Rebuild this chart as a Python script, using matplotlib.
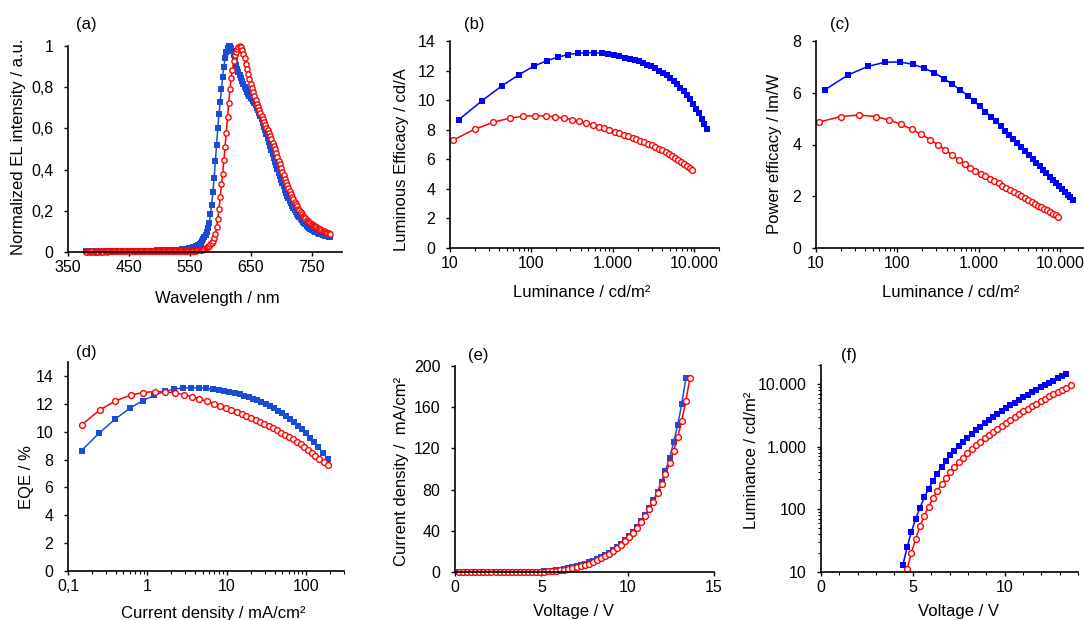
import matplotlib
matplotlib.use("Agg")
import matplotlib.pyplot as plt
from matplotlib.ticker import NullFormatter, LogLocator, MultipleLocator

plt.rcParams['font.family'] = ['Liberation Sans', 'DejaVu Sans']

# ---------------- data ----------------
# (a) EL spectra, 2 nm steps 380..780 nm
wavelength = [
    380, 382, 384, 386, 388, 390, 392, 394, 396, 398,
    400, 402, 404, 406, 408, 410, 412, 414, 416, 418,
    420, 422, 424, 426, 428, 430, 432, 434, 436, 438,
    440, 442, 444, 446, 448, 450, 452, 454, 456, 458,
    460, 462, 464, 466, 468, 470, 472, 474, 476, 478,
    480, 482, 484, 486, 488, 490, 492, 494, 496, 498,
    500, 502, 504, 506, 508, 510, 512, 514, 516, 518,
    520, 522, 524, 526, 528, 530, 532, 534, 536, 538,
    540, 542, 544, 546, 548, 550, 552, 554, 556, 558,
    560, 562, 564, 566, 568, 570, 572, 574, 576, 578,
    580, 582, 584, 586, 588, 590, 592, 594, 596, 598,
    600, 602, 604, 606, 608, 610, 612, 614, 616, 618,
    620, 622, 624, 626, 628, 630, 632, 634, 636, 638,
    640, 642, 644, 646, 648, 650, 652, 654, 656, 658,
    660, 662, 664, 666, 668, 670, 672, 674, 676, 678,
    680, 682, 684, 686, 688, 690, 692, 694, 696, 698,
    700, 702, 704, 706, 708, 710, 712, 714, 716, 718,
    720, 722, 724, 726, 728, 730, 732, 734, 736, 738,
    740, 742, 744, 746, 748, 750, 752, 754, 756, 758,
    760, 762, 764, 766, 768, 770, 772, 774, 776, 778,
    780]

el_blue = [
    0.003, 0.003, 0.002, 0.003, 0.002, 0.003, 0.003, 0.002, 0.003, 0.003,
    0.003, 0.002, 0.003, 0.003, 0.003, 0.002, 0.003, 0.003, 0.003, 0.003,
    0.003, 0.003, 0.004, 0.003, 0.004, 0.004, 0.004, 0.004, 0.004, 0.004,
    0.004, 0.004, 0.005, 0.005, 0.005, 0.005, 0.005, 0.005, 0.005, 0.005,
    0.005, 0.006, 0.006, 0.006, 0.006, 0.006, 0.006, 0.006, 0.006, 0.006,
    0.007, 0.007, 0.007, 0.007, 0.007, 0.007, 0.007, 0.007, 0.008, 0.008,
    0.008, 0.008, 0.008, 0.008, 0.008, 0.009, 0.009, 0.009, 0.009, 0.009,
    0.010, 0.010, 0.010, 0.010, 0.011, 0.011, 0.011, 0.012, 0.012, 0.013,
    0.013, 0.014, 0.015, 0.016, 0.017, 0.018, 0.019, 0.021, 0.023, 0.025,
    0.028, 0.031, 0.035, 0.040, 0.046, 0.053, 0.061, 0.071, 0.083, 0.097,
    0.115, 0.14, 0.185, 0.23, 0.29, 0.36, 0.44, 0.52, 0.60, 0.67,
    0.73, 0.79, 0.85, 0.90, 0.94, 0.97, 0.99, 1.0, 1.0, 0.99,
    0.975, 0.955, 0.935, 0.91, 0.89, 0.875, 0.86, 0.845, 0.83, 0.815,
    0.80, 0.79, 0.778, 0.768, 0.758, 0.75, 0.742, 0.733, 0.723, 0.712,
    0.70, 0.688, 0.674, 0.66, 0.644, 0.627, 0.609, 0.59, 0.571, 0.552,
    0.533, 0.514, 0.495, 0.476, 0.457, 0.438, 0.42, 0.402, 0.384, 0.367,
    0.35, 0.334, 0.318, 0.303, 0.288, 0.274, 0.261, 0.248, 0.236, 0.225,
    0.214, 0.204, 0.194, 0.185, 0.176, 0.168, 0.16, 0.153, 0.146, 0.14,
    0.134, 0.128, 0.123, 0.118, 0.113, 0.109, 0.105, 0.101, 0.098, 0.095,
    0.092, 0.089, 0.087, 0.085, 0.083, 0.081, 0.079, 0.078, 0.076, 0.075,
    0.074]

el_red = [
    0.002, 0.002, 0.003, 0.002, 0.002, 0.003, 0.002, 0.002, 0.003, 0.002,
    0.002, 0.003, 0.002, 0.003, 0.002, 0.003, 0.003, 0.002, 0.003, 0.003,
    0.003, 0.003, 0.003, 0.003, 0.003, 0.003, 0.003, 0.003, 0.003, 0.003,
    0.003, 0.003, 0.003, 0.004, 0.003, 0.004, 0.004, 0.004, 0.004, 0.004,
    0.004, 0.004, 0.004, 0.004, 0.004, 0.004, 0.004, 0.004, 0.004, 0.004,
    0.004, 0.004, 0.005, 0.004, 0.005, 0.005, 0.005, 0.005, 0.005, 0.005,
    0.005, 0.005, 0.005, 0.005, 0.005, 0.005, 0.005, 0.005, 0.005, 0.005,
    0.005, 0.005, 0.005, 0.005, 0.005, 0.005, 0.006, 0.006, 0.006, 0.006,
    0.006, 0.006, 0.006, 0.006, 0.006, 0.006, 0.006, 0.006, 0.007, 0.007,
    0.007, 0.008, 0.009, 0.010, 0.011, 0.012, 0.014, 0.016, 0.019, 0.022,
    0.026, 0.031, 0.037, 0.045, 0.055, 0.068, 0.085, 0.12, 0.16, 0.21,
    0.265, 0.33, 0.38, 0.445, 0.51, 0.58, 0.655, 0.725, 0.79, 0.845,
    0.885, 0.925, 0.955, 0.972, 0.985, 0.995, 1.0, 0.995, 0.98, 0.96,
    0.94, 0.915, 0.89, 0.865, 0.84, 0.815, 0.795, 0.775, 0.755, 0.737,
    0.72, 0.703, 0.688, 0.673, 0.658, 0.644, 0.63, 0.617, 0.604, 0.591,
    0.577, 0.562, 0.547, 0.531, 0.515, 0.498, 0.48, 0.462, 0.444, 0.426,
    0.408, 0.39, 0.373, 0.356, 0.34, 0.325, 0.31, 0.295, 0.281, 0.268,
    0.255, 0.243, 0.232, 0.221, 0.211, 0.202, 0.193, 0.185, 0.177, 0.17,
    0.163, 0.157, 0.151, 0.146, 0.141, 0.136, 0.132, 0.128, 0.124, 0.12,
    0.117, 0.113, 0.11, 0.107, 0.104, 0.101, 0.098, 0.095, 0.092, 0.09,
    0.087]

# voltage sweep (V), shared by both devices; blue stops one step earlier
volt = [0.23, 0.47, 0.70, 0.94, 1.17, 1.41, 1.64, 1.88, 2.11, 2.35,
        2.58, 2.81, 3.05, 3.28, 3.52, 3.75, 3.99, 4.22, 4.46, 4.69,
        4.92, 5.16, 5.39, 5.63, 5.86, 6.10, 6.33, 6.57, 6.80, 7.04,
        7.27, 7.50, 7.74, 7.97, 8.21, 8.44, 8.68, 8.91, 9.15, 9.38,
        9.61, 9.85, 10.08, 10.32, 10.55, 10.79, 11.02, 11.26, 11.49, 11.73,
        11.96, 12.19, 12.43, 12.66, 12.90, 13.13, 13.37, 13.60]

# current density (mA/cm2)
j_blue = [0.001, 0.001, 0.001, 0.001, 0.001, 0.001, 0.001, 0.002, 0.002, 0.003,
          0.004, 0.005, 0.008, 0.012, 0.02, 0.033, 0.055, 0.09,
          0.148, 0.247, 0.395, 0.605, 0.87, 1.21, 1.65, 2.16, 2.78, 3.53,
          4.44, 5.45, 6.63, 7.95, 9.28, 10.8, 12.6, 14.5, 16.6, 18.9,
          21.4, 24.1, 27.3, 30.8, 34.7, 39.0, 43.8, 49.2, 55.3, 62.0,
          69.6, 78.1, 87.7, 98.4, 110.5, 126, 143, 163, 188]
j_red = [0.001, 0.001, 0.001, 0.001, 0.001, 0.001, 0.001, 0.001, 0.002, 0.002,
         0.003, 0.004, 0.005, 0.008, 0.012, 0.02, 0.035, 0.058, 0.095,
         0.15, 0.25, 0.396, 0.613, 0.883, 1.23, 1.67, 2.2, 2.88, 3.64,
         4.53, 5.6, 6.84, 8.13, 9.67, 11.35, 13.34, 15.47, 17.7, 20.3,
         23.3, 26.3, 29.8, 33.8, 38.1, 42.9, 48.3, 54.3, 60.9, 68.3,
         76.4, 85.4, 95.1, 105.8, 117.7, 131, 147, 166, 188]

# luminance (cd/m2), from the first point above 10 cd/m2 on
lum_blue = [12.8, 24.8, 43.6, 70.5, 106, 155, 213, 282, 370, 473,
            590, 726, 863, 1026, 1202, 1393, 1614, 1849, 2089, 2360,
            2649, 2965, 3311, 3690, 4102, 4550, 5035, 5559, 6124, 6730,
            7379, 8072, 8810, 9594, 10420, 11300, 12240, 13240, 14290]
lum_red = [11.0, 20.1, 33.7, 53.8, 78.7, 110, 149, 195, 253, 316,
           388, 473, 569, 667, 782, 906, 1050, 1202, 1358, 1538,
           1738, 1941, 2168, 2421, 2692, 2985, 3304, 3648, 4018, 4416,
           4842, 5297, 5781, 6295, 6839, 7413, 8035, 8710, 9441]

# luminous efficacy (cd/A)
ce_blue = [8.67, 9.97, 10.98, 11.73, 12.29, 12.67, 12.92, 13.08, 13.17, 13.21,
           13.21, 13.17, 13.1, 13.03, 12.96, 12.88, 12.8, 12.72, 12.62, 12.52,
           12.41, 12.28, 12.15, 12.0, 11.84, 11.67, 11.49, 11.29, 11.08, 10.85,
           10.6, 10.33, 10.05, 9.75, 9.43, 9.1, 8.75, 8.4, 8.03]
ce_red = [7.31, 8.03, 8.5, 8.78, 8.91, 8.95, 8.93, 8.87, 8.78, 8.68,
          8.56, 8.44, 8.32, 8.2, 8.09, 7.98, 7.87, 7.77, 7.67, 7.57,
          7.47, 7.37, 7.27, 7.17, 7.06, 6.95, 6.84, 6.72, 6.6, 6.47,
          6.34, 6.2, 6.08, 5.95, 5.81, 5.67, 5.53, 5.39, 5.25]

# power efficacy (lm/W)
pe_blue = [6.11, 6.69, 7.02, 7.18, 7.19, 7.1, 6.95, 6.77, 6.55, 6.32,
           6.11, 5.89, 5.68, 5.47, 5.27, 5.08, 4.89, 4.71, 4.54, 4.37,
           4.21, 4.05, 3.89, 3.74, 3.59, 3.44, 3.3, 3.16, 3.02, 2.89,
           2.76, 2.63, 2.5, 2.38, 2.27, 2.16, 2.06, 1.96, 1.86]
pe_red = [4.87, 5.08, 5.14, 5.08, 4.95, 4.78, 4.59, 4.39, 4.19, 3.98,
          3.78, 3.59, 3.4, 3.24, 3.1, 2.98, 2.87, 2.77, 2.68, 2.59,
          2.5, 2.41, 2.33, 2.24, 2.16, 2.08, 2.0, 1.92, 1.85, 1.78,
          1.71, 1.64, 1.58, 1.51, 1.45, 1.39, 1.33, 1.27, 1.21]

# external quantum efficiency (%)
eqe_blue = [8.64, 9.9, 10.92, 11.69, 12.22, 12.6, 12.9, 13.05, 13.13, 13.16,
            13.15, 13.11, 13.04, 12.96, 12.9, 12.83, 12.76, 12.68, 12.59, 12.49,
            12.38, 12.26, 12.13, 11.99, 11.84, 11.68, 11.51, 11.33, 11.13, 10.92,
            10.69, 10.44, 10.17, 9.88, 9.57, 9.24, 8.88, 8.48, 8.04]
eqe_red = [10.5, 11.55, 12.21, 12.62, 12.81, 12.88, 12.86, 12.78, 12.66, 12.52,
           12.35, 12.18, 12.01, 11.85, 11.7, 11.55, 11.4, 11.26, 11.12, 10.98,
           10.84, 10.7, 10.56, 10.42, 10.26, 10.1, 9.94, 9.77, 9.62, 9.45,
           9.27, 9.08, 8.88, 8.69, 8.49, 8.28, 8.06, 7.83, 7.6]

# index of the first point with luminance above 10 cd/m2
first_blue = len(j_blue) - len(lum_blue)
first_red = len(j_red) - len(lum_red)

BLUE = '#0000ff'
BLUE_A = '#1a4dd6'
RED = '#ff0000'

W, H = 1084, 620
fig = plt.figure(figsize=(W / 100, H / 100), dpi=100)


def axes_px(left, top, right, bottom):
    return fig.add_axes([left / W, 1 - bottom / H, (right - left) / W, (bottom - top) / H])


def style(ax):
    for s in ('top', 'right'):
        ax.spines[s].set_visible(False)
    for s in ('left', 'bottom'):
        ax.spines[s].set_linewidth(1.2)
    ax.tick_params(which='major', direction='out', length=3, width=1, labelsize=11.5)
    ax.tick_params(which='minor', direction='out', length=2.2, width=0.8)
    ax.tick_params(axis='y', which='both', pad=7.5)
    ax.tick_params(axis='x', which='both', pad=3)


def labels(ax, xlabel, ylabel, xpos, ypos):
    ax.set_xlabel(xlabel, fontsize=12, va='center')
    ax.set_ylabel(ylabel, fontsize=12, va='center')
    ax.xaxis.set_label_coords(*xpos)
    ax.yaxis.set_label_coords(*ypos)


def blue_line(ax, x, y, color=BLUE, ms=4.6):
    ax.plot(x, y, '-s', color=color, ms=ms, mew=0, lw=1.1, clip_on=False)


def red_line(ax, x, y, ms=4.2):
    ax.plot(x, y, '-o', color=RED, mfc='white', mec=RED, ms=ms, mew=1.0, lw=1.1, clip_on=False)


def log_minor(axis):
    axis.set_minor_locator(LogLocator(base=10, subs=range(2, 10), numticks=20))
    axis.set_minor_formatter(NullFormatter())


# (a) spectra
ax = axes_px(68, 46, 342, 252)
blue_line(ax, wavelength, el_blue, color=BLUE_A, ms=4.0)
red_line(ax, wavelength, el_red, ms=3.8)
ax.set_xlim(350, 800)
ax.set_ylim(0, 1)
ax.set_xticks([350, 450, 550, 650, 750])
ax.set_yticks([0, 0.2, 0.4, 0.6, 0.8, 1.0], ['0', '0,2', '0,4', '0,6', '0,8', '1'])
style(ax)
labels(ax, 'Wavelength / nm', 'Normalized EL intensity / a.u.', (0.544, -0.228), (-0.182, 0.51))

# (b) luminous efficacy
ax = axes_px(450, 41, 719, 248)
blue_line(ax, lum_blue, ce_blue)
red_line(ax, lum_red, ce_red)
ax.set_xscale('log')
ax.set_xlim(10, 20000)
ax.set_ylim(0, 14)
ax.set_xticks([10, 100, 1000, 10000], ['10', '100', '1.000', '10.000'])
log_minor(ax.xaxis)
ax.set_yticks(range(0, 15, 2))
style(ax)
labels(ax, 'Luminance / cd/m²', 'Luminous Efficacy / cd/A', (0.49, -0.217), (-0.182, 0.427))

# (c) power efficacy
ax = axes_px(816, 41, 1085, 248)
blue_line(ax, lum_blue, pe_blue)
red_line(ax, lum_red, pe_red)
ax.set_xscale('log')
ax.set_xlim(10, 20000)
ax.set_ylim(0, 8)
ax.set_xticks([10, 100, 1000, 10000], ['10', '100', '1.000', '10.000'])
log_minor(ax.xaxis)
ax.set_yticks(range(0, 9, 2))
style(ax)
labels(ax, 'Luminance / cd/m²', 'Power efficacy / lm/W', (0.502, -0.217), (-0.156, 0.456))

# (d) EQE vs current density
ax = axes_px(68, 362, 344, 571)
blue_line(ax, j_blue[first_blue:], eqe_blue, color=BLUE_A)
red_line(ax, j_red[first_red:], eqe_red)
ax.set_xscale('log')
ax.set_xlim(0.1, 300)
ax.set_ylim(0, 15)
ax.set_xticks([0.1, 1, 10, 100], ['0,1', '1', '10', '100'])
log_minor(ax.xaxis)
ax.set_yticks(range(0, 15, 2))
style(ax)
labels(ax, 'Current density / mA/cm²', 'EQE / %', (0.525, -0.201), (-0.149, 0.45))

# (e) J-V
ax = axes_px(455, 366, 714, 572)
blue_line(ax, volt[:len(j_blue)], j_blue, color=BLUE_A)
red_line(ax, volt[:len(j_red)], j_red)
ax.set_xlim(0, 15)
ax.set_ylim(0, 200)
ax.set_xticks([0, 5, 10, 15])
ax.set_yticks(range(0, 201, 40))
style(ax)
labels(ax, 'Voltage / V', 'Current density /  mA/cm²', (0.458, -0.194), (-0.208, 0.49))

# (f) L-V
ax = axes_px(821, 365, 1078, 572)
blue_line(ax, volt[first_blue:len(j_blue)], lum_blue)
red_line(ax, volt[first_red:len(j_red)], lum_red)
ax.set_yscale('log')
ax.set_ylim(10, 20000)
ax.set_xlim(0, 14)
ax.set_yticks([10, 100, 1000, 10000], ['10', '100', '1.000', '10.000'])
log_minor(ax.yaxis)
ax.set_xticks([0, 5, 10])
ax.xaxis.set_minor_locator(MultipleLocator(1))
style(ax)
labels(ax, 'Voltage / V', 'Luminance / cd/m²', (0.536, -0.193), (-0.272, 0.54))

# panel letters
for letter, (px, py) in zip('abcdef', [(86, 25), (474.5, 25), (840, 25),
                                       (86.5, 353), (478.5, 355), (848.5, 355)]):
    fig.text(px / W, 1 - py / H, '(%s)' % letter, fontsize=12, ha='center', va='center')

fig.savefig('out.png', dpi=100)
